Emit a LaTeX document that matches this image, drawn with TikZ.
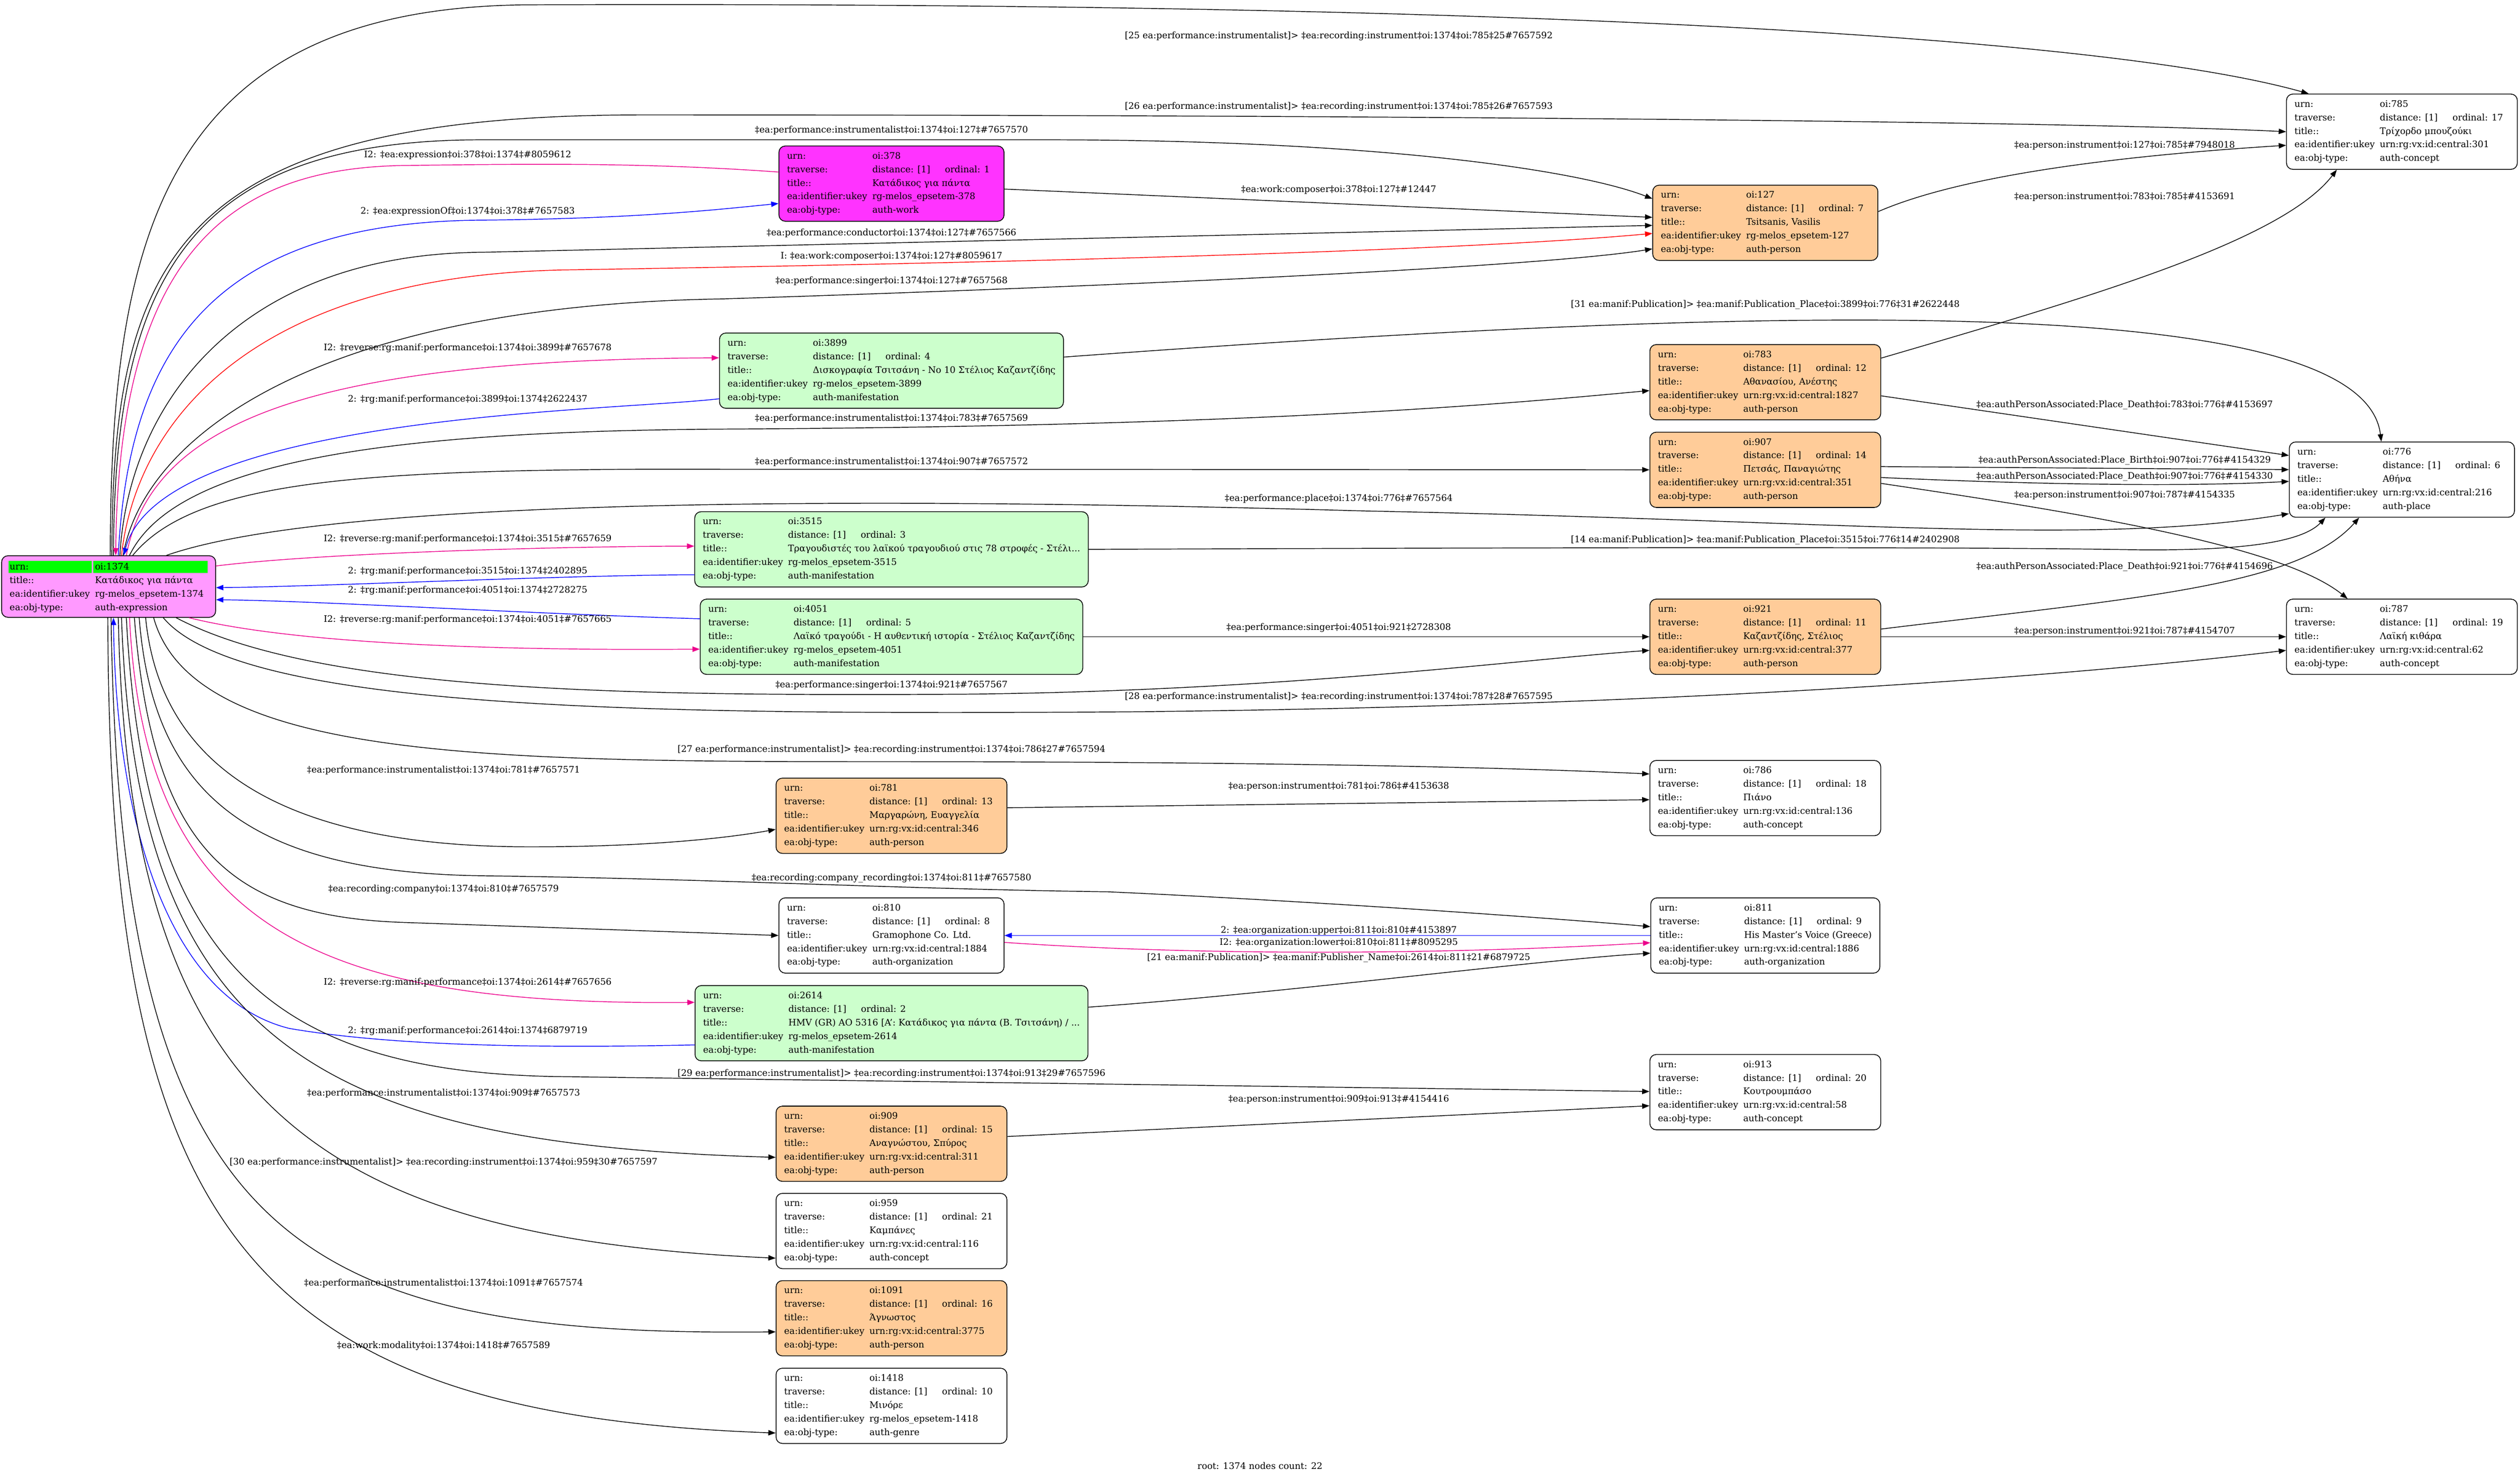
\documentclass[tikz,border=0pt]{standalone}
\usepackage{fontspec}
\setmainfont{DejaVu Serif}
\usetikzlibrary{arrows.meta}
\definecolor{exprfill}{HTML}{FF99FF}
\definecolor{workfill}{HTML}{FF33FF}
\definecolor{personfill}{HTML}{FFCC99}
\definecolor{maniffill}{HTML}{CCFFCC}
\definecolor{hdrgreen}{HTML}{00FF00}
\newcommand{\oikey}[1]{\makebox[174.5pt][l]{#1}}
\newcommand{\oirec}[5]{\oikey{urn:}oi:#1\\
  \oikey{traverse:}distance: [1]\hspace{30pt}ordinal: #2\kern12.5pt\\
  \oikey{title::}#3\\
  \oikey{ea:identifier:ukey}#4\\
  \oikey{ea:obj-type:}#5}
\newcommand{\hdrcell}[2]{{\setlength{\fboxsep}{0pt}\colorbox{hdrgreen}{\makebox[#1][l]{\rule[-7pt]{0pt}{25pt}#2}}}}

\begin{document}
\begin{tikzpicture}[
    x=3.2876pt, y=-3.2876pt,
    font=\fontsize{18.4}{27.8}\selectfont,
    rec/.style={
        draw, line width=1.6pt,
        rounded corners=13pt,
        align=left, anchor=north,
        inner xsep=16.5pt, inner ysep=0pt,
        minimum height=154pt
    },
    lbl/.style={inner sep=0pt, anchor=base},
    link/.style={draw, line width=1.5pt, -{Triangle[length=15pt,width=11pt]}}
]
\useasboundingbox (0,0) rectangle (1568,918.9);

\node[rec, fill=exprfill, minimum height=126pt] (n1374) at (67.6,345.6)
  {\kern-2.7pt\hdrcell{171pt}{\kern2.7pt urn:}\kern3.1pt\hdrcell{233.4pt}{\kern3.1pt oi:1374}\\
   \oikey{title::}Κατάδικος για πάντα\\
   \oikey{ea:identifier:ukey}rg-melos\_epsetem-1374\\
   \oikey{ea:obj-type:}auth-expression};

\node[rec, fill=workfill] (n378) at (554.7,90.6) {\oirec{378}{1}{Κατάδικος για πάντα}{rg-melos\_epsetem-378}{auth-work}};
\node[rec, fill=maniffill] (n3899) at (554.7,207) {\oirec{3899}{4}{Δισκογραφία Τσιτσάνη - Νο 10 Στέλιος Καζαντζίδης}{rg-melos\_epsetem-3899}{auth-manifestation}};
\node[rec, fill=maniffill] (n3515) at (554.7,318.2) {\oirec{3515}{3}{Τραγουδιστές του λαϊκού τραγουδιού στις 78 στροφές - Στέλι...}{rg-melos\_epsetem-3515}{auth-manifestation}};
\node[rec, fill=maniffill] (n4051) at (554.7,372.6) {\oirec{4051}{5}{Λαϊκό τραγούδι - Η αυθεντική ιστορία - Στέλιος Καζαντζίδης}{rg-melos\_epsetem-4051}{auth-manifestation}};
\node[rec, fill=personfill] (n781) at (554.7,484) {\oirec{781}{13}{Μαργαρώνη, Ευαγγελία}{urn:rg:vx:id:central:346}{auth-person}};
\node[rec, fill=white] (n810) at (554.7,558.5) {\oirec{810}{8}{Gramophone Co. Ltd.}{urn:rg:vx:id:central:1884}{auth-organization}};
\node[rec, fill=maniffill] (n2614) at (554.7,613.1) {\oirec{2614}{2}{HMV (GR) AO 5316 [A': Κατάδικος για πάντα (Β. Τσιτσάνη) / ...}{rg-melos\_epsetem-2614}{auth-manifestation}};
\node[rec, fill=personfill] (n909) at (554.7,688.1) {\oirec{909}{15}{Αναγνώστου, Σπύρος}{urn:rg:vx:id:central:311}{auth-person}};
\node[rec, fill=white] (n959) at (554.7,742.4) {\oirec{959}{21}{Καμπάνες}{urn:rg:vx:id:central:116}{auth-concept}};
\node[rec, fill=personfill] (n1091) at (554.7,796.7) {\oirec{1091}{16}{Άγνωστος}{urn:rg:vx:id:central:3775}{auth-person}};
\node[rec, fill=white] (n1418) at (554.7,851.2) {\oirec{1418}{10}{Μινόρε}{rg-melos\_epsetem-1418}{auth-genre}};

\node[rec, fill=personfill] (n127) at (1098.4,115) {\oirec{127}{7}{Tsitsanis, Vasilis}{rg-melos\_epsetem-127}{auth-person}};
\node[rec, fill=personfill] (n783) at (1098.4,214.2) {\oirec{783}{12}{Αθανασίου, Ανέστης}{urn:rg:vx:id:central:1827}{auth-person}};
\node[rec, fill=personfill] (n907) at (1098.4,268.7) {\oirec{907}{14}{Πετσάς, Παναγιώτης}{urn:rg:vx:id:central:351}{auth-person}};
\node[rec, fill=personfill] (n921) at (1098.4,372.6) {\oirec{921}{11}{Καζαντζίδης, Στέλιος}{urn:rg:vx:id:central:377}{auth-person}};
\node[rec, fill=white] (n786) at (1098.4,473) {\oirec{786}{18}{Πιάνο}{urn:rg:vx:id:central:136}{auth-concept}};
\node[rec, fill=white] (n811) at (1098.4,558.5) {\oirec{811}{9}{His Master's Voice (Greece)}{urn:rg:vx:id:central:1886}{auth-organization}};
\node[rec, fill=white] (n913) at (1098.4,656) {\oirec{913}{20}{Κουτρουμπάσο}{urn:rg:vx:id:central:58}{auth-concept}};

\node[rec, fill=white] (n785) at (1494.5,58.3) {\oirec{785}{17}{Τρίχορδο μπουζούκι}{urn:rg:vx:id:central:301}{auth-concept}};
\node[rec, fill=white] (n776) at (1494.5,274.8) {\oirec{776}{6}{Αθήνα}{urn:rg:vx:id:central:216}{auth-place}};
\node[rec, fill=white] (n787) at (1494.5,372.6) {\oirec{787}{19}{Λαϊκή κιθάρα}{urn:rg:vx:id:central:62}{auth-concept}};

\draw[link] ([shift={(1,0)}]n1374.north) .. controls (69,150) and (100,4) .. (330,3) .. controls (900,1) and (1300,20) .. ([shift={(-58,0)}]n785.north);
\node[lbl] (lb1) at (833,24) {[25 ea:performance:instrumentalist]> ‡ea:recording:instrument‡oi:1374‡oi:785‡25\#7657592};
\draw[link] ([shift={(2,0)}]n1374.north) .. controls (70,160) and (110,71.5) .. (400,71.5) .. controls (900,71.5) and (1300,76) .. (n785.west);
\node[lbl] (lb2) at (833,68) {[26 ea:performance:instrumentalist]> ‡ea:recording:instrument‡oi:1374‡oi:785‡26\#7657593};
\draw[link] ([shift={(3,0)}]n1374.north) .. controls (71,170) and (120,87) .. (300,87) -- (650,87) .. controls (850,87) and (980,105) .. ([shift={(0,-15)}]n127.west);
\node[lbl] (lb3) at (554.7,82.5) {‡ea:performance:instrumentalist‡oi:1374‡oi:127‡\#7657570};
\draw[link, magenta] ([shift={(0,-7.2)}]n378.west) .. controls (400,101) and (330,102) .. (250,103) .. controls (150,105) and (74,150) .. ([shift={(4.4,0)}]n1374.north);
\node[lbl] (lb4) at (291,98) {I2: ‡ea:expression‡oi:378‡oi:1374‡\#8059612};
\draw[link, blue] ([shift={(6,0)}]n1374.north) .. controls (80,220) and (130,138) .. (300,137) .. controls (400,136) and (450,130) .. ([shift={(0,12.4)}]n378.west);
\node[lbl] (lb5) at (291,133) {2: ‡ea:expressionOf‡oi:1374‡oi:378‡\#7657583};
\draw[link] ([shift={(0,3.4)}]n378.east) -- ([shift={(0,-3.4)}]n127.west);
\node[lbl] (lb6) at (833,119.7) {‡ea:work:composer‡oi:378‡oi:127‡\#12447};
\draw[link] ([shift={(0,-7)}]n127.east) .. controls (1230,105) and (1350,95) .. ([shift={(0,8.46)}]n785.west);
\node[lbl] (lb7) at (1322,92) {‡ea:person:instrument‡oi:127‡oi:785‡\#7948018};
\draw[link] ([shift={(7,0)}]n1374.north) .. controls (80,250) and (150,158) .. (300,157) -- ([shift={(0,1.6)}]n127.west);
\node[lbl] (lb8) at (554.7,146.5) {‡ea:performance:conductor‡oi:1374‡oi:127‡\#7657566};
\draw[link, red] ([shift={(8,0)}]n1374.north) .. controls (85,260) and (160,172) .. (350,168) .. controls (600,164) and (900,157) .. ([shift={(0,6.6)}]n127.west);
\node[lbl] (lb9) at (554.7,161) {I: ‡ea:work:composer‡oi:1374‡oi:127‡\#8059617};
\draw[link] ([shift={(9,0)}]n1374.north) .. controls (90,270) and (200,190) .. (450,186) .. controls (700,178) and (960,166) .. ([shift={(0,16.2)}]n127.west);
\node[lbl] (lb10) at (554.7,176.3) {‡ea:performance:singer‡oi:1374‡oi:127‡\#7657568};
\draw[link] ([shift={(0,-15)}]n783.east) .. controls (1300,185) and (1420,150) .. ([shift={(-40.5,0)}]n785.south);
\node[lbl] (lb11) at (1322,124) {‡ea:person:instrument‡oi:783‡oi:785‡\#4153691};
\draw[link] ([shift={(0,-8.46)}]n3899.east) .. controls (1100,190) and (1470,180) .. ([shift={(-12.8,0)}]n776.north);
\node[lbl] (lb12) at (1098.4,191) {[31 ea:manif:Publication]> ‡ea:manif:Publication\_Place‡oi:3899‡oi:776‡31\#2622448};
\draw[link, magenta] ([shift={(11,0)}]n1374.north) .. controls (95,260) and (200,224) .. ([shift={(0,-8)}]n3899.west);
\node[lbl] (lb13) at (291,218) {I2: ‡reverse:rg:manif:performance‡oi:1374‡oi:3899‡\#7657678};
\draw[link, blue] ([shift={(0,17.5)}]n3899.west) .. controls (380,256) and (100,258) .. ([shift={(9.4,0)}]n1374.north);
\node[lbl] (lb14) at (291,250) {2: ‡rg:manif:performance‡oi:3899‡oi:1374‡2622437};
\draw[link] ([shift={(13,0)}]n1374.north) .. controls (110,285) and (250,268) .. (456,267) .. controls (800,265) and (950,250) .. ([shift={(0,5.2)}]n783.west);
\node[lbl] (lb15) at (554.7,262.1) {‡ea:performance:instrumentalist‡oi:1374‡oi:783‡\#7657569};
\draw[link] ([shift={(0,8.46)}]n783.east) -- ([shift={(0,-15)}]n776.west);
\node[lbl] (lb16) at (1322,253.5) {‡ea:authPersonAssociated:Place\_Death‡oi:783‡oi:776‡\#4153697};
\draw[link] ([shift={(15,0)}]n1374.north) .. controls (120,300) and (220,293) .. (400,292) -- (n907.west);
\node[lbl] (lb17) at (554.7,289) {‡ea:performance:instrumentalist‡oi:1374‡oi:907‡\#7657572};
\draw[link] ([shift={(0,-2)}]n907.east) -- ([shift={(0,-6.2)}]n776.west);
\node[lbl] (lb18) at (1322,287.9) {‡ea:authPersonAssociated:Place\_Birth‡oi:907‡oi:776‡\#4154329};
\draw[link] ([shift={(0,4.8)}]n907.east) .. controls (1300,303) and (1380,302) .. ([shift={(0,1.1)}]n776.west);
\node[lbl] (lb19) at (1322,298.1) {‡ea:authPersonAssociated:Place\_Death‡oi:907‡oi:776‡\#4154330};
\draw[link] ([shift={(0,8.46)}]n907.east) .. controls (1300,320) and (1420,340) .. ([shift={(-33.8,0)}]n787.north);
\node[lbl] (lb20) at (1322,309.7) {‡ea:person:instrument‡oi:907‡oi:787‡\#4154335};
\draw[link] ([shift={(36,0)}]n1374.north) .. controls (200,312) and (500,308) .. (850,318) .. controls (1150,324) and (1300,340) .. ([shift={(0,21.2)}]n776.west);
\node[lbl] (lb21) at (833,312) {‡ea:performance:place‡oi:1374‡oi:776‡\#7657564};
\draw[link, magenta] ([shift={(0,-12.8)}]n1374.east) .. controls (200,344) and (350,340) .. ([shift={(0,-2)}]n3515.west);
\node[lbl] (lb22) at (291,337) {I2: ‡reverse:rg:manif:performance‡oi:1374‡oi:3515‡\#7657659};
\draw[link] (n3515.east) .. controls (900,341) and (1200,340) .. (1320,342) .. controls (1380,343) and (1430,340) .. ([shift={(-47.6,0)}]n776.south);
\node[lbl] (lb23) at (1098.4,337.5) {[14 ea:manif:Publication]> ‡ea:manif:Publication\_Place‡oi:3515‡oi:776‡14\#2402908};
\draw[link, blue] ([shift={(0,15.8)}]n3515.west) .. controls (350,358) and (200,365) .. ([shift={(0,0.7)}]n1374.east);
\node[lbl] (lb24) at (291,357) {2: ‡rg:manif:performance‡oi:3515‡oi:1374‡2402895};
\draw[link, blue] ([shift={(0,-11.2)}]n4051.west) .. controls (330,382) and (200,374) .. ([shift={(0,8.2)}]n1374.east);
\node[lbl] (lb25) at (291,369) {2: ‡rg:manif:performance‡oi:4051‡oi:1374‡2728275};
\draw[link, magenta] ([shift={(50,0)}]n1374.south) .. controls (180,400) and (300,405) .. ([shift={(0,7.7)}]n4051.west);
\node[lbl] (lb26) at (291,387) {I2: ‡reverse:rg:manif:performance‡oi:1374‡oi:4051‡\#7657665};
\draw[link] ([shift={(0,-4.8)}]n921.east) .. controls (1330,372) and (1430,365) .. ([shift={(-26.6,0)}]n776.south);
\node[lbl] (lb27) at (1322,354.3) {‡ea:authPersonAssociated:Place\_Death‡oi:921‡oi:776‡\#4154696};
\draw[link] (n4051.east) -- (n921.west);
\node[lbl] (lb28) at (833,392) {‡ea:performance:singer‡oi:4051‡oi:921‡2728308};
\draw[link] (n921.east) -- (n787.west);
\node[lbl] (lb29) at (1322,394.4) {‡ea:person:instrument‡oi:921‡oi:787‡\#4154707};
\draw[link] ([shift={(42,0)}]n1374.south) .. controls (200,432) and (400,433) .. (600,432) .. controls (800,430) and (950,410) .. ([shift={(0,8.46)}]n921.west);
\node[lbl] (lb30) at (554.7,428) {‡ea:performance:singer‡oi:1374‡oi:921‡\#7657567};
\draw[link] ([shift={(34,0)}]n1374.south) .. controls (150,442) and (400,445) .. (700,443) .. controls (1000,440) and (1250,425) .. ([shift={(0,8.46)}]n787.west);
\node[lbl] (lb31) at (833,435) {[28 ea:performance:instrumentalist]> ‡ea:recording:instrument‡oi:1374‡oi:787‡28\#7657595};
\draw[link] ([shift={(28,0)}]n1374.south) .. controls (120,472) and (300,474) .. (550,474) .. controls (800,474) and (950,478) .. ([shift={(0,-15)}]n786.west);
\node[lbl] (lb32) at (554.7,468) {[27 ea:performance:instrumentalist]> ‡ea:recording:instrument‡oi:1374‡oi:786‡27\#7657594};
\draw[link] ([shift={(23,0)}]n1374.south) .. controls (100,480) and (180,527) .. (330,527) .. controls (400,527) and (450,522) .. ([shift={(0,8.46)}]n781.west);
\node[lbl] (lb33) at (276,481) {‡ea:performance:instrumentalist‡oi:1374‡oi:781‡\#7657571};
\draw[link] ([shift={(0,-5)}]n781.east) -- ([shift={(0,1)}]n786.west);
\node[lbl] (lb34) at (833,491) {‡ea:person:instrument‡oi:781‡oi:786‡\#4153638};
\draw[link] ([shift={(16,0)}]n1374.south) .. controls (95,525) and (140,570) .. (250,574) -- (n810.west);
\node[lbl] (lb35) at (276,555) {‡ea:recording:company‡oi:1374‡oi:810‡\#7657579};
\draw[link] ([shift={(19,0)}]n1374.south) .. controls (95,490) and (150,543) .. (300,545) .. controls (450,547) and (550,553) .. (690,555) .. controls (800,560) and (950,570) .. ([shift={(0,-5.5)}]n811.west);
\node[lbl] (lb36) at (554.7,548) {‡ea:recording:company\_recording‡oi:1374‡oi:811‡\#7657580};
\draw[link, blue] (n811.west) -- (n810.east);
\node[lbl] (lb37) at (833,580.5) {2: ‡ea:organization:upper‡oi:811‡oi:810‡\#4153897};
\draw[link, magenta] ([shift={(0,4.3)}]n810.east) .. controls (750,595) and (900,594) .. ([shift={(0,4.5)}]n811.west);
\node[lbl] (lb38) at (833,588) {I2: ‡ea:organization:lower‡oi:810‡oi:811‡\#8095295};
\draw[link] ([shift={(0,-10)}]n2614.east) .. controls (800,618) and (950,598) .. ([shift={(0,11)}]n811.west);
\node[lbl] (lb39) at (833,597.7) {[21 ea:manif:Publication]> ‡ea:manif:Publisher\_Name‡oi:2614‡oi:811‡21\#6879725};
\draw[link, magenta] ([shift={(13,0)}]n1374.south) .. controls (90,580) and (200,626) .. ([shift={(0,-13)}]n2614.west);
\node[lbl] (lb40) at (291,613) {I2: ‡reverse:rg:manif:performance‡oi:1374‡oi:2614‡\#7657656};
\draw[link, blue] ([shift={(0,13.5)}]n2614.west) .. controls (350,652) and (250,652) .. (180,640) .. controls (100,620) and (72,500) .. ([shift={(3,0)}]n1374.south);
\node[lbl] (lb41) at (291,643) {2: ‡rg:manif:performance‡oi:2614‡oi:1374‡6879719};
\draw[link] ([shift={(11,0)}]n1374.south) .. controls (90,600) and (170,668) .. (350,670) -- ([shift={(0,-0.4)}]n913.west);
\node[lbl] (lb42) at (554.7,669.7) {[29 ea:performance:instrumentalist]> ‡ea:recording:instrument‡oi:1374‡oi:913‡29\#7657596};
\draw[link] ([shift={(8,0)}]n1374.south) .. controls (85,650) and (200,712) .. ([shift={(0,8.46)}]n909.west);
\node[lbl] (lb43) at (276,682) {‡ea:performance:instrumentalist‡oi:1374‡oi:909‡\#7657573};
\draw[link] ([shift={(0,-4.5)}]n909.east) -- ([shift={(0,8.46)}]n913.west);
\node[lbl] (lb44) at (833,685.8) {‡ea:person:instrument‡oi:909‡oi:913‡\#4154416};
\draw[link] ([shift={(6,0)}]n1374.south) .. controls (80,690) and (200,770) .. ([shift={(0,16.9)}]n959.west);
\node[lbl] (lb45) at (276,725) {[30 ea:performance:instrumentalist]> ‡ea:recording:instrument‡oi:1374‡oi:959‡30\#7657597};
\draw[link] ([shift={(1.5,0)}]n1374.south) .. controls (75,770) and (180,832) .. ([shift={(0,8.46)}]n1091.west);
\node[lbl] (lb46) at (276,800) {‡ea:performance:instrumentalist‡oi:1374‡oi:1091‡\#7657574};
\draw[link] ([shift={(-0.5,0)}]n1374.south) .. controls (68,760) and (150,880) .. ([shift={(0,16.9)}]n1418.west);
\node[lbl] (lb47) at (276,839) {‡ea:work:modality‡oi:1374‡oi:1418‡\#7657589};

\node[lbl] (footer) at (784,914.3) {root: 1374 nodes count: 22};
\end{tikzpicture}
\end{document}
